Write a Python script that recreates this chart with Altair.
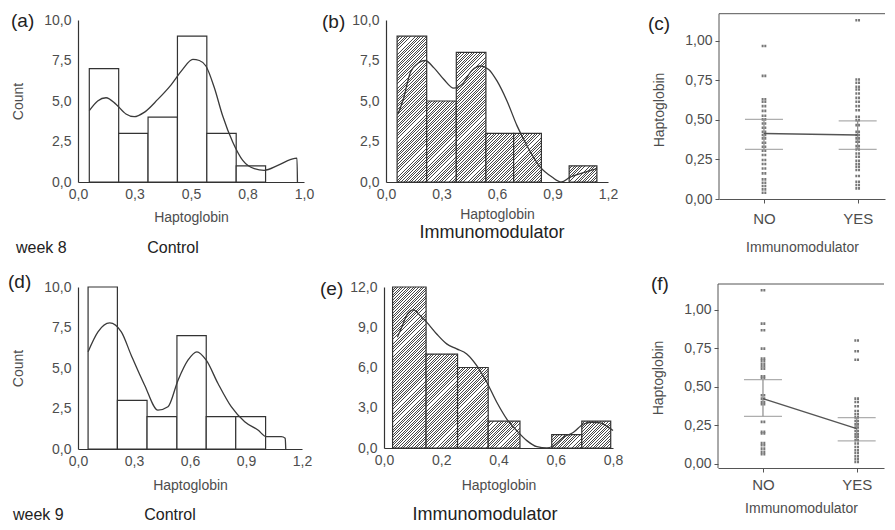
import altair as alt
import pandas as pd

FONT = "Liberation Sans"
INK = "#333333"
TXT = "#4d4d4d"
CAP = "#222222"

# ---------------- data ----------------
# (a) week 8, Control
a_lo = [0.05, 0.18, 0.31, 0.44, 0.57, 0.70]
a_hi = [0.18, 0.31, 0.44, 0.57, 0.70, 0.83]
a_n = [7, 3, 4, 9, 3, 1]
a_cx = [0.050, 0.087, 0.124, 0.168, 0.212, 0.249, 0.293, 0.353, 0.412, 0.463, 0.508, 0.537,
        0.566, 0.603, 0.640, 0.685, 0.729, 0.780, 0.824, 0.884, 0.942, 0.969, 0.971]
a_cy = [4.40, 5.00, 5.20, 4.80, 4.20, 4.03, 4.30, 5.10, 6.00, 6.95, 7.57, 7.50,
        7.16, 5.83, 4.09, 2.45, 1.33, 0.82, 0.72, 1.02, 1.39, 1.47, 0.00]

# (b) week 8, Immunomodulator
b_lo = [0.06, 0.22, 0.38, 0.54, 0.69, 0.99]
b_hi = [0.22, 0.38, 0.54, 0.69, 0.84, 1.14]
b_n = [9, 5, 8, 3, 3, 1]
b_cx = [0.065, 0.096, 0.131, 0.177, 0.212, 0.258, 0.312, 0.366, 0.411, 0.465, 0.510,
        0.555, 0.600, 0.654, 0.708, 0.771, 0.834, 0.897, 0.948, 0.996, 1.077, 1.141]
b_cy = [4.19, 5.20, 6.75, 7.36, 7.50, 7.06, 6.34, 5.79, 6.03, 6.89, 7.16,
        6.95, 6.24, 5.00, 3.48, 2.05, 0.92, 0.31, 0.00, 0.31, 0.61, 0.82]

# (c) week 8, individual values by group
c_no = [0.967, 0.778, 0.630, 0.614, 0.587, 0.557, 0.526, 0.503, 0.477, 0.450, 0.425, 0.404, 0.383,
        0.355, 0.330, 0.305, 0.278, 0.246, 0.221, 0.193, 0.162, 0.124, 0.103, 0.082, 0.061, 0.040]
c_yes = [1.129, 0.755, 0.734, 0.709, 0.692, 0.667, 0.639, 0.614, 0.587, 0.561, 0.519, 0.498, 0.467,
         0.425, 0.404, 0.383, 0.362, 0.334, 0.313, 0.288, 0.267, 0.242, 0.221, 0.204, 0.183, 0.145,
         0.109, 0.088, 0.067]
c_mean = [0.414, 0.404]
c_low = [0.313, 0.313]
c_high = [0.503, 0.494]

# (d) week 9, Control
d_lo = [0.054, 0.211, 0.370, 0.530, 0.687, 0.845]
d_hi = [0.211, 0.370, 0.530, 0.687, 0.845, 1.005]
d_n = [10, 3, 2, 7, 2, 2]
d_cx = [0.054, 0.107, 0.170, 0.232, 0.285, 0.357, 0.428, 0.482, 0.536, 0.589, 0.637, 0.687,
        0.750, 0.821, 0.893, 0.964, 1.009, 1.089, 1.110, 1.113]
d_cy = [6.00, 7.23, 7.78, 7.23, 5.79, 3.94, 2.40, 2.61, 4.25, 5.48, 6.00, 5.48,
        4.04, 2.61, 1.68, 1.17, 0.76, 0.76, 0.66, 0.00]

# (e) week 9, Immunomodulator
e_lo = [0.030, 0.147, 0.257, 0.364, 0.586, 0.691]
e_hi = [0.147, 0.257, 0.364, 0.475, 0.691, 0.792]
e_n = [12, 7, 6, 2, 1, 2]
e_cx = [0.047, 0.062, 0.082, 0.103, 0.126, 0.149, 0.184, 0.219, 0.254, 0.289, 0.324, 0.359, 0.394,
        0.429, 0.464, 0.499, 0.534, 0.569, 0.592, 0.627, 0.662, 0.697, 0.726, 0.755, 0.784, 0.800]
e_cy = [8.26, 9.00, 10.00, 10.30, 9.88, 9.38, 8.50, 7.76, 7.39, 7.01, 6.14, 4.90, 3.41,
        2.16, 1.29, 0.55, 0.10, 0.00, 0.17, 0.80, 1.17, 1.79, 1.92, 1.87, 1.54, 1.30]

# (f) week 9, individual values by group
f_no = [1.126, 0.909, 0.866, 0.747, 0.682, 0.667, 0.649, 0.632, 0.617, 0.567, 0.556, 0.444,
        0.422, 0.400, 0.385, 0.271, 0.206, 0.195, 0.134, 0.119, 0.097, 0.076, 0.061]
f_yes = [0.800, 0.730, 0.675, 0.422, 0.400, 0.372, 0.342, 0.320, 0.300, 0.277, 0.255, 0.234,
         0.212, 0.190, 0.173, 0.152, 0.130, 0.108, 0.087, 0.069, 0.048, 0.030, 0.011]
f_mean = [0.422, 0.227]
f_low = [0.307, 0.147]
f_high = [0.545, 0.299]

groups = ["NO", "YES"]


# ---------------- helpers ----------------
def comma(d):
    return "replace(format(datum.value, '.%df'), '.', ',')" % d


def note(txt, x, y, size, align="left", baseline="middle", color=CAP):
    return alt.Chart(pd.DataFrame({"t": [txt]})).mark_text(
        align=align, baseline=baseline, fontSize=size, font=FONT, color=color
    ).encode(x=alt.value(x), y=alt.value(y), text="t:N")


def hatch_fill(wpx, hpx, period=2.6, frac=0.36, dark="#474747", light="#ffffff"):
    s = wpx + hpx
    n = max(1, int(round(s / period)))
    k = s / (wpx * wpx + hpx * hpx)
    stops = []
    for i in range(n):
        t0 = round(i / n, 5)
        t1 = round((i + frac) / n, 5)
        t2 = round((i + 1) / n, 5)
        stops += [{"offset": t0, "color": dark}, {"offset": t1, "color": dark},
                  {"offset": t1, "color": light}, {"offset": t2, "color": light}]
    return {"gradient": "linear", "x1": 0, "y1": 0, "x2": wpx * k, "y2": hpx * k, "stops": stops}


def histogram(lo, hi, n, cx, cy, xmax, xticks, ymax, yticks, W, H, hatched, count_title, x_tp, notes):
    xs = alt.Scale(domain=[0, xmax], nice=False, zero=False)
    ys = alt.Scale(domain=[0, ymax], nice=False, zero=False)
    xax = alt.Axis(values=xticks, labelExpr=comma(1), title="Haptoglobin", grid=False, ticks=False,
                   domainColor=INK, domainWidth=1.2, labelFont=FONT, labelFontSize=14, labelColor=TXT,
                   labelPadding=5, labelFlush=False, labelOverlap=False, titleFont=FONT,
                   titleFontSize=14, titleFontWeight="normal", titleColor=TXT, titlePadding=x_tp)
    ykw = dict(values=yticks, labelExpr=comma(1), grid=False, ticks=False, domainColor=INK,
               domainWidth=1.2, labelFont=FONT, labelFontSize=14, labelColor=TXT, labelPadding=7,
               labelFlush=False, labelOverlap=False)
    if count_title:
        ykw.update(title="Count", titleFont=FONT, titleFontSize=14, titleFontWeight="normal",
                   titleColor=TXT, titlePadding=18)
    else:
        ykw.update(title="")
    yax = alt.Axis(**ykw)
    bars = pd.DataFrame({"lo": lo, "hi": hi, "n": n})
    layers = []
    if hatched:
        for i in range(len(bars)):
            wpx = (hi[i] - lo[i]) / xmax * W
            hpx = n[i] / ymax * H
            layers.append(
                alt.Chart(bars.iloc[[i]]).mark_rect(
                    fill=hatch_fill(wpx, hpx), stroke=INK, strokeWidth=1.2
                ).encode(
                    x=alt.X("lo:Q", scale=xs, axis=xax),
                    x2="hi:Q",
                    y=alt.Y("n:Q", scale=ys, axis=yax),
                    y2=alt.datum(0),
                )
            )
    else:
        layers.append(
            alt.Chart(bars).mark_rect(fill="white", stroke=INK, strokeWidth=1.2).encode(
                x=alt.X("lo:Q", scale=xs, axis=xax),
                x2="hi:Q",
                y=alt.Y("n:Q", scale=ys, axis=yax),
                y2=alt.datum(0),
            )
        )
    curve = pd.DataFrame({"x": cx, "y": cy})
    layers.append(
        alt.Chart(curve).mark_line(color="#3a3a3a", strokeWidth=1.3, interpolate="monotone").encode(
            x=alt.X("x:Q", scale=xs, axis=xax), y=alt.Y("y:Q", scale=ys, axis=yax)
        )
    )
    layers += notes
    return alt.layer(*layers).properties(width=W, height=H)


PAIR = "M-1,-0.55H-0.15V0.55H-1Z M0.15,-0.55H1V0.55H0.15Z"
FRAME = "#555555"


def scatter(no_v, yes_v, means, low, high, ydom, W, H, top, x_lp, x_tp, notes):
    pts = pd.DataFrame({"g": [0] * len(no_v) + [1] * len(yes_v), "v": no_v + yes_v})
    st = pd.DataFrame({"g": [0, 1], "grp": groups, "m": means, "lo": low, "hi": high})
    xs = alt.Scale(domain=[-0.48, -0.48 + W / 93.7], nice=False, zero=False)
    ys = alt.Scale(domain=ydom, nice=False, zero=False)
    xax = alt.Axis(values=[0, 1], labelExpr="datum.value == 0 ? 'NO' : 'YES'", title="Immunomodulator",
                   grid=False, domainColor=FRAME, tickColor=FRAME, tickSize=4, labelFont=FONT,
                   labelFontSize=15, labelColor=TXT, labelPadding=x_lp, labelFlush=False,
                   labelOverlap=False, titleFont=FONT, titleFontSize=14, titleFontWeight="normal",
                   titleColor=TXT, titlePadding=x_tp)
    yax = alt.Axis(values=[0, 0.25, 0.5, 0.75, 1.0], labelExpr=comma(2), title="Haptoglobin",
                   grid=False, domain=False, tickColor=FRAME, tickSize=4, labelFont=FONT,
                   labelFontSize=14, labelColor=TXT, labelPadding=3, labelFlush=False,
                   labelOverlap=False, titleFont=FONT, titleFontSize=14, titleFontWeight="normal",
                   titleColor=TXT, titlePadding=18)
    X = lambda f: alt.X(f, scale=xs, axis=xax)
    Y = lambda f: alt.Y(f, scale=ys, axis=yax)
    points = alt.Chart(pts).mark_point(shape=PAIR, filled=True, size=22, color="#777777", opacity=1).encode(
        x=X("g:Q"), y=Y("v:Q")
    )
    vrule = alt.Chart(st).mark_rule(color="#8c8c8c", strokeWidth=1.2).encode(
        x=X("g:Q"), y=Y("lo:Q"), y2="hi:Q"
    )
    t_lo = alt.Chart(st).mark_tick(orient="horizontal", size=38, thickness=1.3, color="#8c8c8c").encode(
        x=X("g:Q"), y=Y("lo:Q")
    )
    t_hi = alt.Chart(st).mark_tick(orient="horizontal", size=38, thickness=1.3, color="#8c8c8c").encode(
        x=X("g:Q"), y=Y("hi:Q")
    )
    mline = alt.Chart(st).mark_line(color="#555555", strokeWidth=1.5).encode(
        x=X("g:Q"), y=Y("m:Q")
    )
    frame = pd.DataFrame({"k": [0]})
    frame_top = alt.Chart(frame).mark_rule(color=FRAME, strokeWidth=1).encode(
        x=alt.value(0), x2=alt.value(W), y=alt.value(-top)
    )
    frame_left = alt.Chart(frame).mark_rule(color=FRAME, strokeWidth=1).encode(
        x=alt.value(0), y=alt.value(-top), y2=alt.value(H)
    )
    return alt.layer(points, vrule, t_lo, t_hi, mline, frame_top, frame_left, *notes).properties(
        width=W, height=H)


# ---------------- panels ----------------
pa = histogram(a_lo, a_hi, a_n, a_cx, a_cy, 1.0, [0, 0.25, 0.5, 0.75, 1.0], 10, [0, 2.5, 5, 7.5, 10],
               226, 162, False, True, 9,
               [note("(a)", -67, -8, 19, baseline="top"), note("week 8", -62, 227.7, 16),
                note("Control", 95, 227.7, 16, align="center")])
pb = histogram(b_lo, b_hi, b_n, b_cx, b_cy, 1.2, [0, 0.3, 0.6, 0.9, 1.2], 10, [0, 2.5, 5, 7.5, 10],
               222, 162, True, False, 6,
               [note("(b)", -64, -7, 19, baseline="top"),
                note("Immunomodulator", 106, 213.3, 18, align="center")])
pc = scatter(c_no, c_yes, c_mean, c_low, c_high, [0, 1.131], 166, 179, 6.3, 8, 14,
             [note("(c)", -71, -5, 19, baseline="top")])

pd_ = histogram(d_lo, d_hi, d_n, d_cx, d_cy, 1.2, [0, 0.3, 0.6, 0.9, 1.2], 10, [0, 2.5, 5, 7.5, 10],
                224, 162, False, True, 10,
                [note("(d)", -70, -14, 19, baseline="top"), note("week 9", -65, 228, 16),
                 note("Control", 92, 228, 16, align="center")])
pe = histogram(e_lo, e_hi, e_n, e_cx, e_cy, 0.8, [0, 0.2, 0.4, 0.6, 0.8], 12, [0, 3, 6, 9, 12],
               229, 161, True, False, 11,
               [note("(e)", -64, -7, 19, baseline="top"),
                note("Immunomodulator", 101, 228, 18, align="center")])
pf = scatter(f_no, f_yes, f_mean, f_low, f_high, [-0.0286, 1.147], 166, 181, 3, 5, 9,
             [note("(f)", -67, -12, 19, baseline="top")])

row1 = alt.hconcat(alt.hconcat(pa, pb, spacing=8), pc, spacing=30)
row2 = alt.hconcat(alt.hconcat(pd_, pe, spacing=8), pf, spacing=28)

chart = alt.vconcat(row1, row2, spacing=17).properties(
    padding={"left": 0, "top": 4, "right": 0, "bottom": 0}, background="white"
).configure_view(stroke=None)

chart.save("out.html", embed_options={"renderer": "svg", "actions": False})
